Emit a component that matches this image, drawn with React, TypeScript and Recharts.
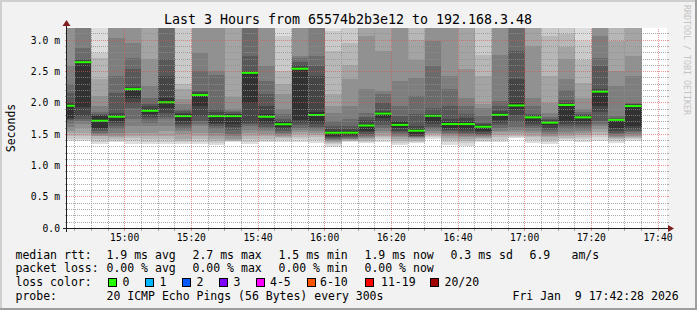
import React from 'react';
import { ComposedChart, Bar, XAxis, YAxis, CartesianGrid } from 'recharts';

// ---- data ----
const windowStart = '14:42:42';
const windowEnd = '17:42:42';

const sampleEndTimes = [
  '14:45', '14:50', '14:55', '15:00', '15:05', '15:10', '15:15', '15:20', '15:25', '15:30',
  '15:35', '15:40', '15:45', '15:50', '15:55', '16:00', '16:05', '16:10', '16:15', '16:20',
  '16:25', '16:30', '16:35', '16:40', '16:45', '16:50', '16:55', '17:00', '17:05', '17:10',
  '17:15', '17:20', '17:25', '17:30', '17:35',
];

// median rtt in ms
const medianRtt = [
  1.955, 2.65, 1.716, 1.78, 2.22, 1.875, 2.01, 1.79, 2.126, 1.79,
  1.79, 2.48, 1.78, 1.66, 2.545, 1.807, 1.525, 1.525, 1.64, 1.83,
  1.65, 1.557, 1.796, 1.663, 1.663, 1.62, 1.81, 1.96, 1.77, 1.685,
  1.967, 1.77, 2.18, 1.73, 1.95,
];

// 20 sorted ping rtts (ms) per sample, used for the smoke
const smokePings = [
  [1.39, 1.42, 1.47, 1.52, 1.56, 1.62, 1.68, 1.72, 1.74, 1.76, 1.99, 2.02, 2.16, 2.30, 2.59, 3.3, 3.5, 3.7, 4.0, 4.4],
  [1.39, 1.43, 1.47, 1.52, 1.60, 1.66, 1.71, 1.74, 1.79, 1.93, 2.67, 2.69, 2.70, 2.88, 3.4, 3.6, 3.8, 4.0, 4.3, 4.8],
  [1.34, 1.38, 1.42, 1.47, 1.48, 1.50, 1.52, 1.56, 1.58, 1.60, 1.79, 1.80, 1.82, 1.85, 1.95, 2.11, 2.38, 2.72, 2.80, 3.6],
  [1.38, 1.40, 1.42, 1.45, 1.48, 1.52, 1.58, 1.63, 1.68, 1.71, 1.81, 1.84, 2.16, 2.43, 3.04, 3.3, 3.5, 3.7, 4.0, 4.5],
  [1.34, 1.40, 1.44, 1.48, 1.52, 1.63, 1.74, 1.92, 2.00, 2.08, 2.24, 2.25, 2.54, 2.72, 2.96, 3.4, 3.6, 3.8, 4.1, 4.5],
  [1.34, 1.38, 1.43, 1.47, 1.52, 1.63, 1.68, 1.74, 1.77, 1.82, 1.90, 1.95, 1.98, 2.08, 2.27, 2.70, 3.4, 3.6, 3.9, 4.3],
  [1.34, 1.38, 1.42, 1.47, 1.56, 1.63, 1.74, 1.78, 1.84, 1.92, 2.08, 2.43, 2.70, 3.4, 3.6, 3.8, 4.0, 4.3, 4.6, 5.0],
  [1.34, 1.37, 1.40, 1.43, 1.50, 1.55, 1.59, 1.63, 1.67, 1.71, 1.82, 1.84, 1.87, 1.90, 1.98, 2.06, 2.22, 2.30, 3.5, 4.0],
  [1.34, 1.38, 1.42, 1.47, 1.52, 1.63, 1.66, 1.71, 1.79, 1.95, 2.15, 2.17, 2.19, 2.51, 2.80, 3.4, 3.6, 3.9, 4.2, 4.6],
  [1.33, 1.36, 1.39, 1.42, 1.47, 1.52, 1.58, 1.63, 1.66, 1.68, 1.81, 1.85, 1.90, 2.45, 2.51, 3.4, 3.6, 3.9, 4.2, 4.6],
  [1.38, 1.39, 1.40, 1.41, 1.43, 1.47, 1.51, 1.57, 1.62, 1.66, 1.82, 1.83, 1.85, 1.87, 1.90, 2.10, 3.4, 3.7, 4.0, 4.4],
  [1.34, 1.38, 1.42, 1.47, 1.52, 1.57, 1.63, 1.66, 1.68, 2.00, 2.50, 2.51, 2.75, 3.4, 3.6, 3.8, 4.0, 4.3, 4.6, 5.0],
  [1.37, 1.40, 1.43, 1.47, 1.50, 1.55, 1.58, 1.62, 1.66, 1.70, 1.82, 1.95, 2.14, 2.35, 2.59, 3.4, 3.6, 3.8, 4.1, 4.5],
  [1.38, 1.41, 1.44, 1.46, 1.48, 1.50, 1.52, 1.55, 1.58, 1.62, 1.69, 1.71, 1.74, 1.82, 1.90, 2.14, 2.30, 2.51, 3.07, 3.4],
  [1.37, 1.42, 1.46, 1.50, 1.53, 1.57, 1.60, 1.65, 1.68, 1.72, 2.56, 2.60, 2.66, 2.72, 2.75, 3.4, 3.6, 3.9, 4.2, 4.6],
  [1.36, 1.41, 1.45, 1.49, 1.52, 1.55, 1.58, 1.62, 1.66, 1.70, 1.85, 2.43, 2.59, 2.75, 3.4, 3.6, 3.8, 4.0, 4.3, 4.7],
  [1.30, 1.34, 1.36, 1.38, 1.40, 1.41, 1.42, 1.44, 1.46, 1.48, 1.56, 1.58, 1.63, 1.71, 1.84, 1.95, 2.14, 2.83, 3.15, 3.4],
  [1.37, 1.39, 1.40, 1.41, 1.42, 1.43, 1.44, 1.45, 1.47, 1.49, 1.56, 1.58, 1.63, 1.74, 1.95, 2.38, 2.60, 2.96, 3.4, 3.8],
  [1.36, 1.38, 1.40, 1.42, 1.44, 1.46, 1.48, 1.50, 1.53, 1.55, 1.67, 1.72, 1.78, 1.84, 2.22, 3.07, 3.4, 3.7, 4.0, 4.4],
  [1.37, 1.42, 1.45, 1.48, 1.52, 1.56, 1.60, 1.65, 1.70, 1.76, 1.86, 1.87, 2.00, 2.14, 2.19, 2.83, 3.4, 3.7, 4.0, 4.4],
  [1.33, 1.36, 1.40, 1.42, 1.45, 1.48, 1.50, 1.53, 1.56, 1.60, 1.69, 1.71, 1.79, 1.95, 2.35, 3.4, 3.6, 3.9, 4.2, 4.6],
  [1.36, 1.38, 1.40, 1.42, 1.44, 1.45, 1.46, 1.47, 1.48, 1.50, 1.58, 1.63, 1.82, 2.11, 2.40, 2.69, 3.01, 3.4, 3.7, 4.0],
  [1.42, 1.45, 1.47, 1.50, 1.52, 1.55, 1.58, 1.62, 1.66, 1.70, 1.82, 1.83, 1.92, 2.59, 2.99, 3.4, 3.7, 4.0, 4.3, 4.7],
  [1.33, 1.37, 1.41, 1.44, 1.47, 1.50, 1.52, 1.55, 1.57, 1.60, 1.69, 1.75, 1.95, 2.22, 2.43, 3.4, 3.6, 3.9, 4.2, 4.6],
  [1.31, 1.36, 1.40, 1.42, 1.45, 1.47, 1.50, 1.52, 1.55, 1.58, 1.70, 1.76, 1.82, 1.95, 2.08, 2.54, 3.4, 3.7, 4.0, 4.4],
  [1.37, 1.40, 1.42, 1.44, 1.46, 1.47, 1.49, 1.51, 1.53, 1.56, 1.64, 1.66, 1.68, 1.79, 1.92, 1.98, 2.43, 2.77, 3.4, 3.8],
  [1.37, 1.41, 1.45, 1.49, 1.53, 1.56, 1.60, 1.64, 1.68, 1.72, 1.84, 1.87, 1.95, 2.03, 2.77, 3.4, 3.6, 3.9, 4.2, 4.6],
  [1.44, 1.46, 1.48, 1.50, 1.53, 1.57, 1.62, 1.70, 1.80, 1.90, 2.00, 2.38, 2.83, 3.4, 3.6, 3.8, 4.0, 4.3, 4.6, 5.0],
  [1.36, 1.41, 1.45, 1.48, 1.52, 1.55, 1.60, 1.63, 1.67, 1.70, 1.78, 1.80, 1.82, 1.95, 2.08, 2.91, 3.4, 3.7, 4.0, 4.4],
  [1.35, 1.38, 1.41, 1.45, 1.48, 1.51, 1.54, 1.57, 1.60, 1.64, 1.70, 1.72, 1.74, 1.78, 1.84, 2.00, 2.43, 3.07, 3.4, 3.8],
  [1.39, 1.42, 1.44, 1.47, 1.50, 1.53, 1.58, 1.63, 1.67, 1.71, 1.98, 2.00, 2.05, 2.20, 2.38, 2.70, 2.90, 3.10, 3.4, 3.8],
  [1.37, 1.42, 1.46, 1.49, 1.52, 1.55, 1.58, 1.63, 1.67, 1.71, 1.79, 1.81, 1.83, 1.86, 1.90, 2.08, 2.32, 2.69, 2.99, 3.4],
  [1.40, 1.45, 1.49, 1.53, 1.58, 1.63, 1.66, 1.71, 1.85, 1.95, 2.20, 2.22, 2.59, 2.72, 3.07, 3.4, 3.6, 3.9, 4.2, 4.6],
  [1.36, 1.39, 1.42, 1.44, 1.46, 1.48, 1.50, 1.52, 1.56, 1.60, 1.74, 1.75, 1.76, 1.79, 2.27, 2.51, 2.99, 3.4, 3.7, 4.0],
  [1.39, 1.42, 1.44, 1.46, 1.48, 1.50, 1.53, 1.55, 1.58, 1.63, 1.97, 1.98, 1.99, 2.00, 2.43, 2.75, 3.4, 3.7, 4.0, 4.4],
];

const xTickLabels = ['15:00', '15:20', '15:40', '16:00', '16:20', '16:40', '17:00', '17:20', '17:40'];
const yTickValues = [0, 0.5, 1.0, 1.5, 2.0, 2.5, 3.0];
const Y_MAX = 3.2;

const lossColors = ['#26ff00', '#00b8ff', '#0059ff', '#7e00ff', '#ff00ff', '#ff5500', '#ff0000', '#a10000'];
const lossLabels = ['0', '1', '2', '3', '4-5', '6-10', '11-19', '20/20'];

const titleText = 'Last 3 Hours from 65574b2b3e12 to 192.168.3.48';
const rttStats = ['1.9 ms avg', '2.7 ms max', '1.5 ms min', '1.9 ms now', '0.3 ms sd'];
const lossStats = ['0.00 % avg', '0.00 % max', '0.00 % min', '0.00 % now'];
const amsValue = '6.9';
const probeText = '20 ICMP Echo Pings (56 Bytes) every 300s';
const dateText = 'Fri Jan\u00a0\u00a09 17:42:28 2026';

// ---- helpers ----
const toMin = (s: string) => {
  const [h, m, sec] = s.split(':').map(Number);
  return (h - 14) * 60 + m + (sec || 0) / 60;
};
const startMin = toMin(windowStart);
const endMin = toMin(windowEnd);
const SAMPLE_STEP = 5;

const data = sampleEndTimes.map((t, i) => {
  const p = smokePings[i];
  const row: Record<string, number> = { t: toMin(t) - SAMPLE_STEP / 2, median: medianRtt[i], s0: p[0] };
  for (let j = 1; j < p.length; j++) row['s' + j] = p[j] - p[j - 1];
  return row;
});

const segColor = (j: number) => {
  const layer = Math.min(j, 20 - j);
  const g = Math.floor((190 / 10) * (10 - layer)) + 50;
  const h = g.toString(16).padStart(2, '0');
  return '#' + h + h + h;
};

const xTicks = xTickLabels.map((l) => toMin(l));
const xLabelOf = (v: number) => xTickLabels[xTicks.findIndex((t) => Math.abs(t - v) < 0.01)] ?? '';

const minorY: number[] = [];
for (let i = 1; i <= 31; i++) if (i % 5 !== 0) minorY.push(i / 10);
const majorY = yTickValues.filter((v) => v > 0);
const minorX: number[] = [];
for (let m = toMin('14:45'); m <= toMin('17:40'); m += 5) if (!xTicks.some((t) => Math.abs(t - m) < 0.01)) minorX.push(m);

const MedianShape = (props: any) => {
  const { x, y, width } = props;
  if (x == null || y == null) return null;
  return <rect x={x} y={y - 1} width={width} height={2} fill={lossColors[0]} />;
};

const MONO = "'DejaVu Sans Mono', monospace";
const GRID = 'rgba(143,143,143,0.75)';
const MGRID = 'rgba(222,79,79,0.6)';
const W = 697;
const H = 310;
const MARGIN = { top: 27.7, right: 30, bottom: 51.7, left: 7 };
const Y_AXIS_W = 60;
const X_AXIS_H = 30;
// plot rectangle implied by the margins and axis sizes
const PL = MARGIN.left + Y_AXIS_W;
const PT = MARGIN.top;
const PW = W - PL - MARGIN.right;
const PH = H - PT - MARGIN.bottom - X_AXIS_H;
const gx = (m: number) => Math.floor(PL + (PW * (m - startMin)) / (endMin - startMin));
const gy = (v: number) => Math.floor(PT + PH * (1 - v / Y_MAX));
const X0 = Math.floor(PL);
const X1 = Math.floor(PL + PW);
const Y0 = Math.floor(PT + PH);
const Y1 = Math.ceil(PT);

// grid lines as 1px HTML strips with a 1-on / 1-off dotted background
const HLine = ({ y, c }: { y: number; c: string }) => (
  <>
    <div style={{ position: 'absolute', left: X0 - 2, top: y, width: 2, height: 1, background: c }} />
    <div
      style={{
        position: 'absolute',
        left: X0,
        top: y,
        width: X1 - X0,
        height: 1,
        background: `repeating-linear-gradient(to right, ${c} 0px, ${c} 1px, transparent 1px, transparent 2px)`,
      }}
    />
    <div style={{ position: 'absolute', left: X1, top: y, width: 2, height: 1, background: c }} />
  </>
);
const VLine = ({ x, c }: { x: number; c: string }) => (
  <>
    <div
      style={{
        position: 'absolute',
        left: x,
        top: Y1,
        width: 1,
        height: Y0 - Y1,
        background: `repeating-linear-gradient(to top, ${c} 0px, ${c} 1px, transparent 1px, transparent 2px)`,
      }}
    />
    <div style={{ position: 'absolute', left: x, top: Y0 + 1, width: 1, height: 2, background: c }} />
  </>
);

export default function App() {
  const segs = [];
  for (let j = 0; j < 20; j++) {
    segs.push(
      <Bar
        key={'s' + j}
        dataKey={'s' + j}
        stackId="smoke"
        fill={j === 0 ? 'none' : segColor(j)}
        fillOpacity={j === 0 ? 0 : 1}
        isAnimationActive={false}
      />
    );
  }
  const legendY = [258.5, 272.3, 286.2, 300];
  const statX = [106.5, 192.5, 278.5, 364.5, 450.5];
  const boxX = [108.5, 145.5, 182.5, 219.5, 256.5, 307.5, 365.5, 430.5];
  const labelX = [122.5, 159.5, 196.5, 233.5, 270, 320, 381, 444.5];

  return (
    <div style={{ position: 'fixed', left: 0, top: 0, width: W, height: H, background: '#f2f2f2', overflow: 'hidden' }}>
      <style>{`.smk .recharts-rectangle{shape-rendering:crispEdges}`}</style>
      <div style={{ position: 'absolute', left: 0, top: 0 }}>
        <ComposedChart
          className="smk"
          width={W}
          height={H}
          data={data}
          margin={MARGIN}
          barCategoryGap={0}
          barGap={0}
        >
          <CartesianGrid fill="#ffffff" horizontal={false} vertical={false} stroke="none" />
          <XAxis
            dataKey="t"
            type="number"
            domain={[startMin, endMin]}
            allowDataOverflow
            ticks={xTicks}
            interval={0}
            tickFormatter={xLabelOf}
            tickLine={false}
            axisLine={false}
            tickSize={0}
            tickMargin={5.5}
            height={X_AXIS_H}
            tick={{ fontFamily: MONO, fontSize: 9.7, fill: '#000' }}
          />
          <XAxis xAxisId="m" dataKey="t" type="number" domain={[startMin, endMin]} allowDataOverflow hide />
          <YAxis
            type="number"
            domain={[0, Y_MAX]}
            allowDataOverflow
            ticks={yTickValues}
            interval={0}
            tickFormatter={(v: number) => (v === 0 ? '0.0' : `${v.toFixed(1)} m`)}
            width={Y_AXIS_W}
            tickLine={false}
            axisLine={false}
            tickSize={0}
            tickMargin={7}
            tick={{ fontFamily: MONO, fontSize: 9.7, fill: '#000' }}
          />
          {segs}
          <Bar xAxisId="m" dataKey="median" shape={MedianShape} isAnimationActive={false} />
        </ComposedChart>
      </div>

      {/* grid on top of the smoke, as rrdtool does */}
      <div style={{ position: 'absolute', left: 0, top: 0, width: W, height: H, pointerEvents: 'none' }}>
        {minorY.map((v) => <HLine key={'my' + v} y={gy(v)} c={GRID} />)}
        {minorX.map((m) => <VLine key={'mx' + m} x={gx(m)} c={GRID} />)}
        {majorY.map((v) => <HLine key={'My' + v} y={gy(v)} c={MGRID} />)}
        {xTicks.map((m) => <VLine key={'Mx' + m} x={gx(m)} c={MGRID} />)}
      </div>

      <svg
        width={W}
        height={H}
        style={{ position: 'absolute', left: 0, top: 0, pointerEvents: 'none' }}
        fontFamily={MONO}
      >
        <rect x={0} y={0} width={W} height={2} fill="#cfcfcf" />
        <rect x={0} y={0} width={2} height={H} fill="#cfcfcf" />
        <rect x={0} y={H - 2} width={W} height={2} fill="#9e9e9e" />
        <rect x={W - 2} y={0} width={2} height={H} fill="#9e9e9e" />

        <text x={348} y={24} fontSize={13.3} textAnchor="middle" fill="#000">{titleText}</text>
        <text transform="translate(15,128) rotate(-90)" fontSize={11.5} textAnchor="middle" fill="#000">Seconds</text>
        <text transform="translate(683.5,5) rotate(90)" fontSize={8.3} fill="#c4c4c4">RRDTOOL / TOBI OETIKER</text>

        {/* axes */}
        <g shapeRendering="crispEdges">
          <rect x={X0 - 4} y={Y0} width={X1 - X0 + 6} height={1} fill="#1f1f1f" />
          <rect x={X0 - 1} y={Y1 - 3} width={1} height={Y0 - Y1 + 7} fill="#1f1f1f" />
        </g>
        <polygon points={`${X1 + 1},${Y0 - 3} ${X1 + 7},${Y0 + 0.5} ${X1 + 1},${Y0 + 4}`} fill="#801f1f" />
        <polygon points={`${X0 - 4.5},${Y1 - 2} ${X0 - 0.5},${Y1 - 8} ${X0 + 3.5},${Y1 - 2}`} fill="#801f1f" />

        {/* legend */}
        <g fontSize={11.5} fill="#000">
          <text x={15.5} y={legendY[0]}>median rtt:</text>
          {rttStats.map((s, i) => (
            <text key={'r' + i} x={statX[i]} y={legendY[0]}>{s}</text>
          ))}
          <text x={529.5} y={legendY[0]}>{amsValue}</text>
          <text x={571.5} y={legendY[0]}>am/s</text>

          <text x={15.5} y={legendY[1]}>packet loss:</text>
          {lossStats.map((s, i) => (
            <text key={'l' + i} x={statX[i]} y={legendY[1]}>{s}</text>
          ))}

          <text x={15.5} y={legendY[2]}>loss color:</text>
          {lossColors.map((c, i) => (
            <g key={'c' + i}>
              <rect x={boxX[i]} y={278.5} width={8} height={8} fill={c} stroke="#000" strokeWidth={1} />
              <text x={labelX[i]} y={legendY[2]}>{lossLabels[i]}</text>
            </g>
          ))}

          <text x={15.5} y={legendY[3]}>probe:</text>
          <text x={106.5} y={legendY[3]}>{probeText}</text>
          <text x={512.5} y={legendY[3]}>{dateText}</text>
        </g>
      </svg>
    </div>
  );
}
